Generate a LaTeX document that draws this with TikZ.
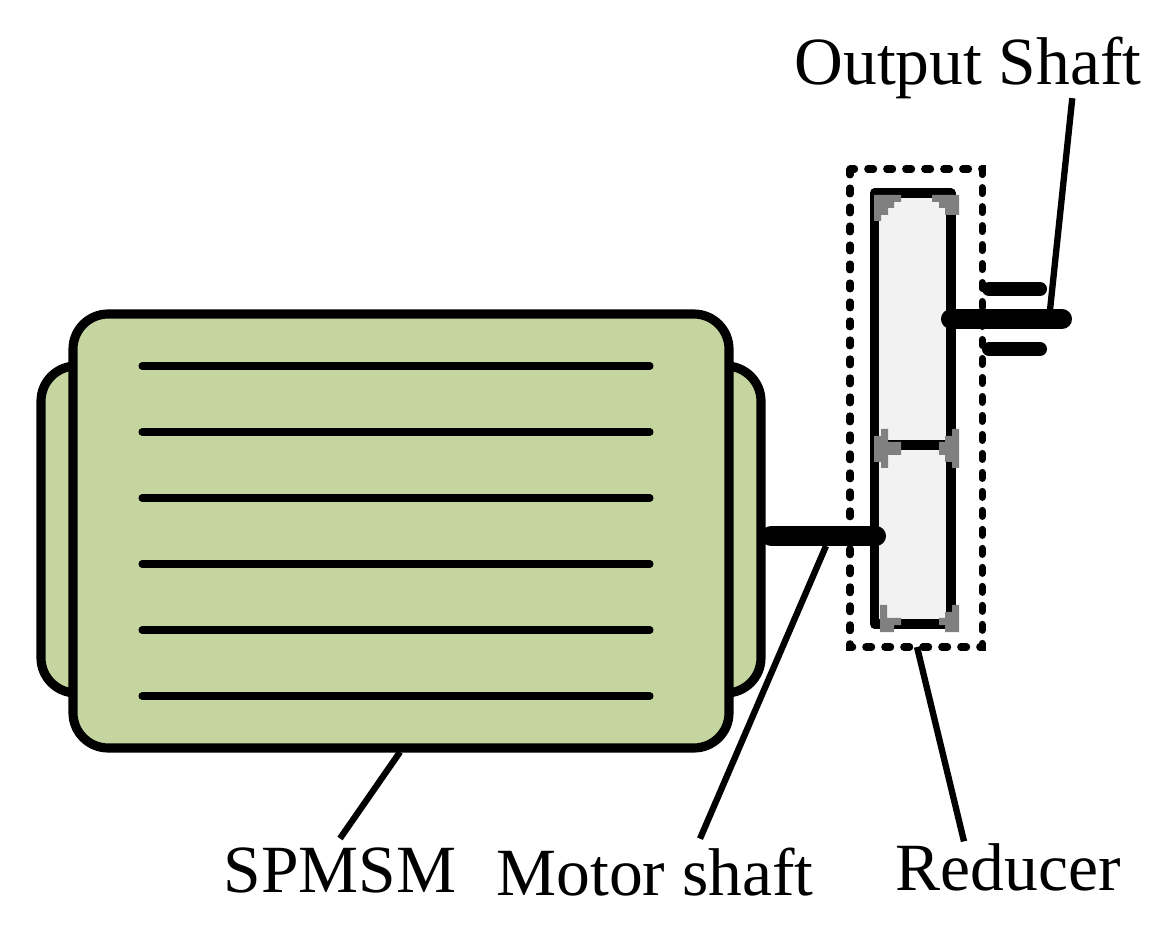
\documentclass[tikz,border=0pt]{standalone}
\usepackage{fontspec}
\setmainfont{Liberation Serif}
\usetikzlibrary{calc}
\definecolor{MotorGreen}{RGB}{197,213,160}
\definecolor{ReducerGray}{RGB}{242,242,242}
\definecolor{CornerGray}{RGB}{128,128,128}
\tikzset{
  housing/.style={draw=black, fill=MotorGreen, line width=2.6pt, rounded corners=10pt},
  fin/.style={line width=2pt, line cap=round},
  shaftline/.style={line width=5.7pt, line cap=round},
  tabline/.style={line width=4pt, line cap=round},
  leader/.style={line width=1.8pt},
  corner/.style={fill=CornerGray},
  label/.style={font=\fontsize{19.2}{22}\selectfont, anchor=base, inner sep=2.3pt}
}
\begin{document}
\begin{tikzpicture}[x=0.01cm,y=-0.01cm]
  \useasboundingbox (0,0) rectangle (1173,928);
  % reducer
  \draw[line width=2pt, line cap=round, dash pattern=on 1.7pt off 3.7pt] (850,169) rectangle (982,647);
  \draw[fill=ReducerGray, line width=2.6pt, line join=round] (874.5,193) rectangle (951,624);
  \draw[line width=2.6pt] (874.5,445) -- (951,445);
  \fill[corner] (874,195) -- (901,195) -- (901,202) -- (894,202) -- (894,208) -- (888,208) -- (888,215) -- (881,215) -- (881,221) -- (874,221) -- cycle;
  \fill[corner] (932,195) -- (959,195) -- (959,215) -- (945,215) -- (945,208) -- (939,208) -- (939,202) -- (932,202) -- cycle;
  \fill[corner] (881,429) -- (888,429) -- (888,442) -- (901,442) -- (901,455) -- (888,455) -- (888,468) -- (881,468) -- (881,462) -- (874,462) -- (874,436) -- (881,436) -- cycle;
  \fill[corner] (952,429) -- (959,429) -- (959,468) -- (952,468) -- (952,462) -- (945,462) -- (945,455) -- (939,455) -- (939,442) -- (945,442) -- (945,436) -- (952,436) -- cycle;
  \fill[corner] (880,605) -- (887,605) -- (887,618) -- (901,618) -- (901,625) -- (894,625) -- (894,632) -- (880,632) -- cycle;
  \fill[corner] (952,605) -- (959,605) -- (959,632) -- (945,632) -- (945,625) -- (939,625) -- (939,618) -- (945,618) -- (945,612) -- (952,612) -- cycle;
  % shafts
  \draw[shaftline] (771,536) -- (876,536);
  \draw[shaftline] (951,319) -- (1062,319);
  \draw[tabline] (989,289) -- (1040,289);
  \draw[tabline] (989,349) -- (1040,349);
  % motor
  \draw[housing] (41,366) rectangle (761,693);
  \draw[housing] (73,314) rectangle (729,748);
  \foreach \y in {366,432,498,564,630,696} {
    \draw[fin] (142,\y) -- (650,\y);
  }
  % labels
  \node[label] (lblOutput) at (968,85) {Output Shaft};
  \node[label] (lblSpmsm) at (340,892) {SPMSM};
  \node[label] (lblMotorShaft) at (655,895) {Motor shaft};
  \node[label] (lblReducer) at (1008,890) {Reducer};
  \coordinate (outputEnd) at (1050,310);
  \coordinate (motorEnd) at (400,752);
  \coordinate (shaftEnd) at (826,546);
  \coordinate (reducerEnd) at (917,647);
  \draw[leader] ($(lblOutput.south east)+(-78,-10)$) -- (outputEnd);
  \draw[leader] (lblSpmsm.north) -- (motorEnd);
  \draw[leader] ($(lblMotorShaft.north)+(45,0)$) -- (shaftEnd);
  \draw[leader] ($(lblReducer.north)+(-44,7)$) -- (reducerEnd);
\end{tikzpicture}
\end{document}
